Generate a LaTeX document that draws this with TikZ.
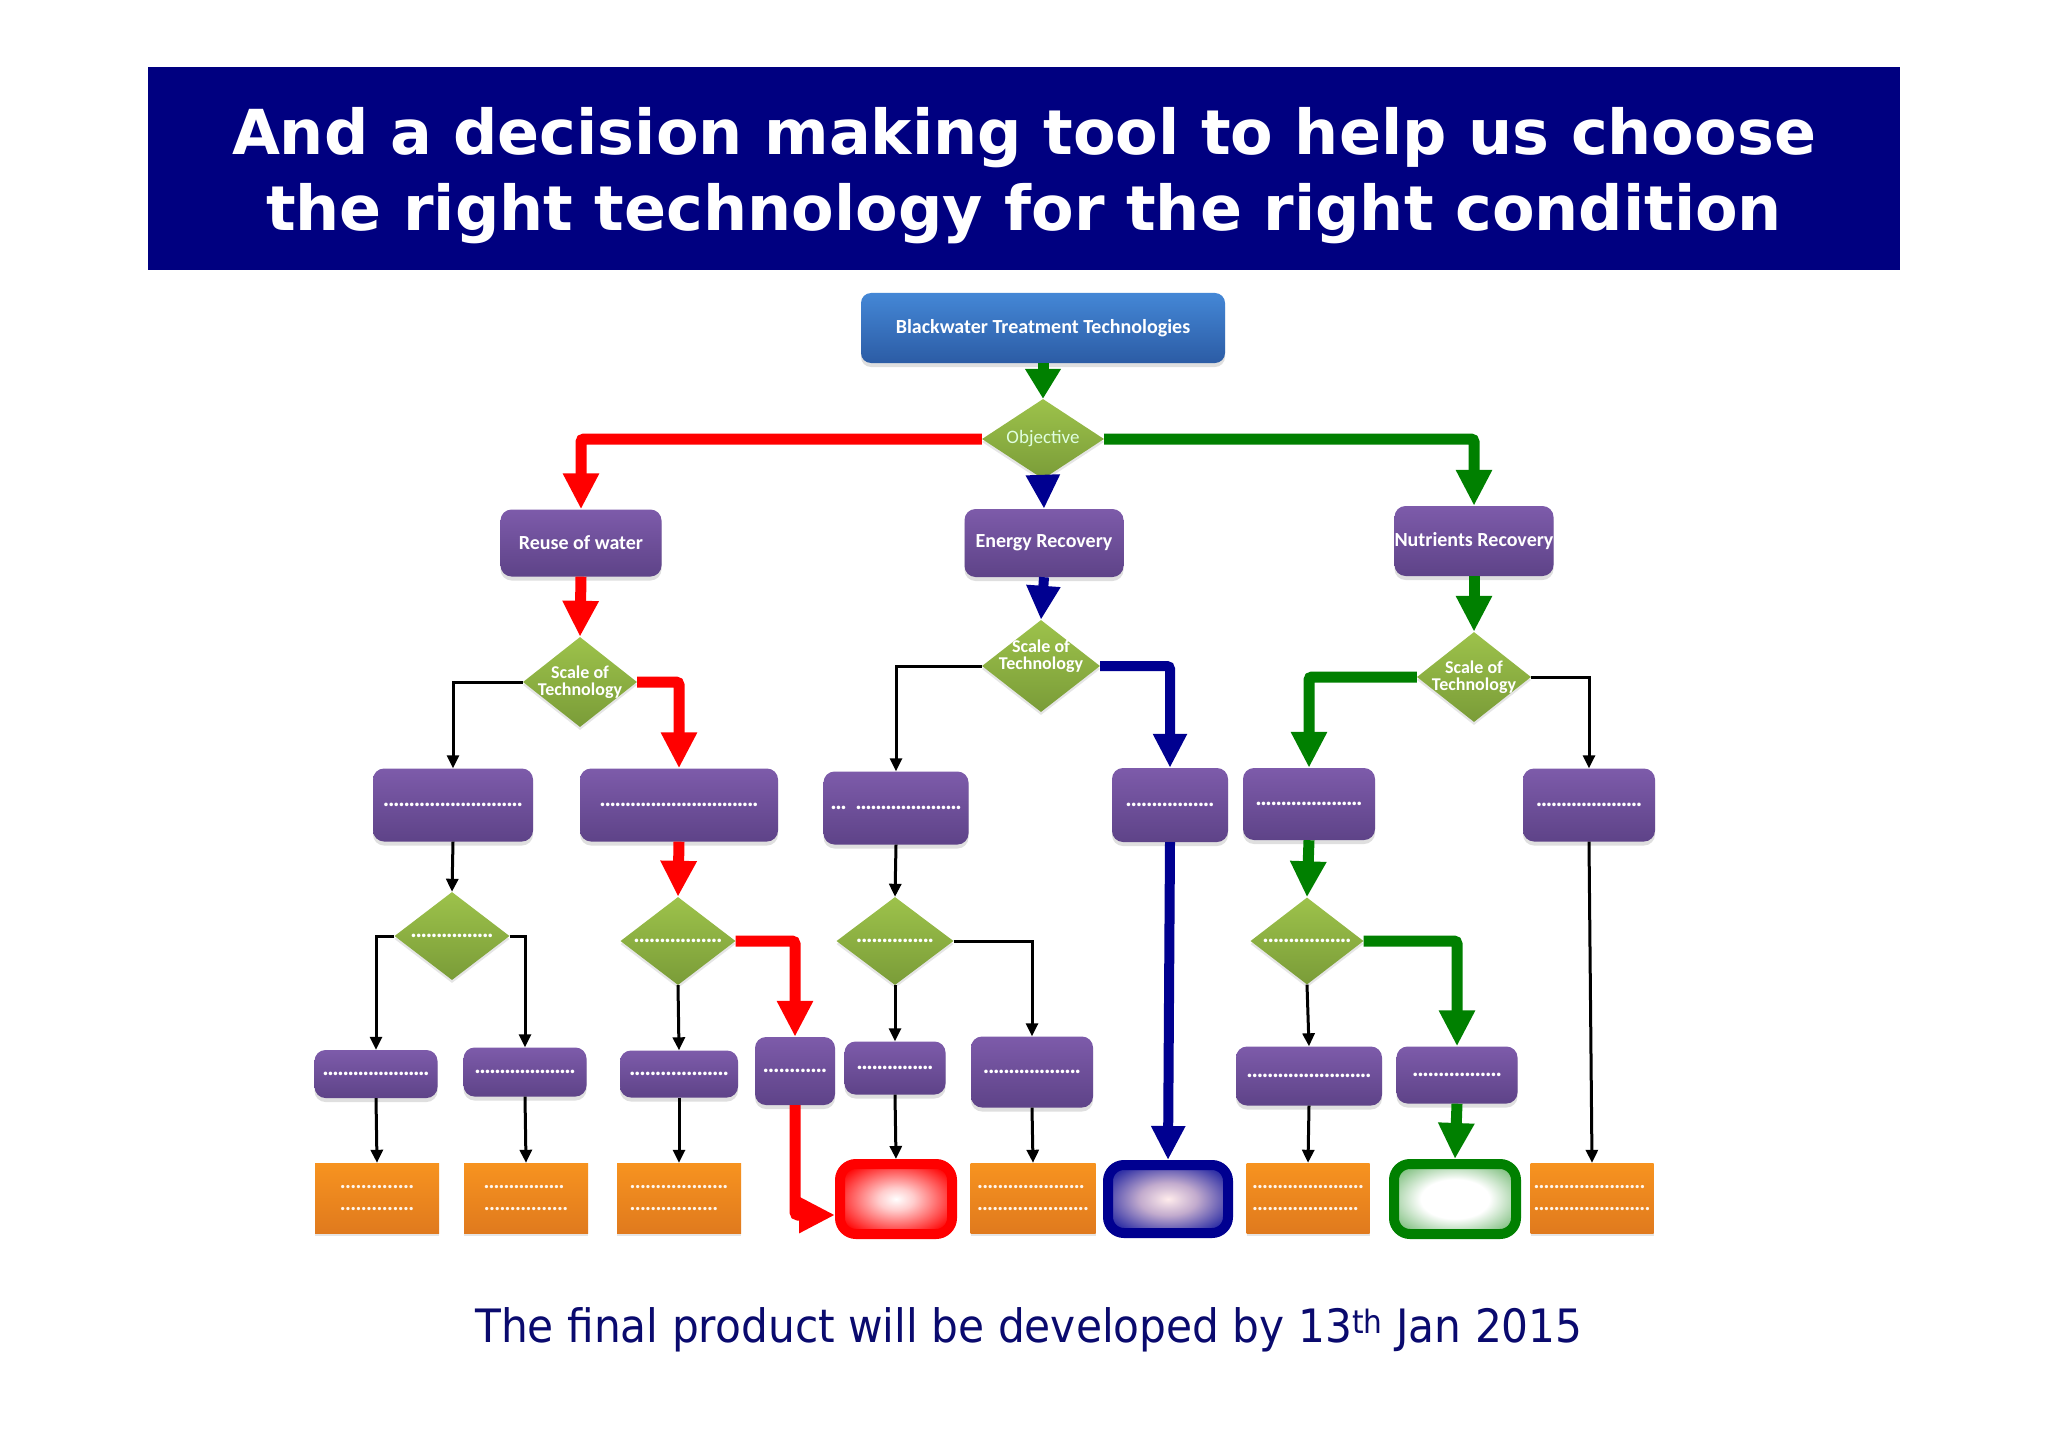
\documentclass[tikz,border=0pt]{standalone}
\usepackage{fontspec}
\usepackage{graphicx}
\setmainfont{DejaVu Sans}
\newfontfamily\carl{Carlito}
\usetikzlibrary{arrows.meta,shapes.geometric,shadows}
\definecolor{navyb}{HTML}{000080}
\definecolor{footc}{HTML}{0A0A6E}
\definecolor{pTop}{HTML}{7D5BAA}
\definecolor{pBot}{HTML}{5E4388}
\definecolor{gTop}{HTML}{9DC24B}
\definecolor{gBot}{HTML}{7A9C38}
\definecolor{oTop}{HTML}{F7931F}
\definecolor{oBot}{HTML}{E07A1E}
\definecolor{bTop}{HTML}{4487D6}
\definecolor{bBot}{HTML}{2C5CA5}
\definecolor{lred}{HTML}{FF0000}
\definecolor{lgreen}{HTML}{008000}
\definecolor{lblue}{HTML}{000090}
\pgfdeclareradialshading{glowR}{\pgfpoint{0bp}{0bp}}{color(0bp)=(white); color(8bp)=(lred!20!white); color(30bp)=(lred); color(50bp)=(lred)}
\pgfdeclareradialshading{glowB}{\pgfpoint{0bp}{0bp}}{color(0bp)=(pink!30!white); color(12bp)=(lblue!40!pink!60!white); color(28bp)=(lblue!80!white); color(42bp)=(lblue); color(50bp)=(lblue)}
\pgfdeclareradialshading{glowG}{\pgfpoint{0bp}{0bp}}{color(0bp)=(white); color(14bp)=(white); color(30bp)=(lgreen!50!white); color(42bp)=(lgreen); color(50bp)=(lgreen)}
\newcommand\dotrow[2][5pt]{\hbox to #2{\xleaders\hbox to #1{\hss.\hss}\hfill}}
\begin{document}
\begin{tikzpicture}[x=1pt,y=-1pt,
  pbox/.style={rectangle, rounded corners=11pt, top color=pTop, bottom color=pBot, inner sep=0pt,
    drop shadow={shadow xshift=0pt, shadow yshift=-4pt, opacity=0.25}, text=white,
    font=\carl\bfseries\fontsize{24}{24}\selectfont},
  lbox/.style={pbox, font=\carl\bfseries\fontsize{20}{22}\selectfont},
  bbox/.style={rectangle, rounded corners=10pt, top color=bTop, bottom color=bBot, inner sep=0pt,
    drop shadow={shadow xshift=0pt, shadow yshift=-4pt, opacity=0.25}, text=white,
    font=\carl\bfseries\fontsize{20}{22}\selectfont},
  dia/.style={diamond, top color=gTop, bottom color=gBot, inner sep=0pt,
    drop shadow={shadow xshift=0pt, shadow yshift=-3pt, opacity=0.2}},
  dlab/.style={text=white, align=center, font=\carl\bfseries\fontsize{18}{17}\selectfont},
  ddots/.style={text=white, font=\carl\bfseries\fontsize{24}{24}\selectfont},
  obox/.style={rectangle, top color=oTop, bottom color=oBot, inner sep=0pt, minimum width=124pt, minimum height=70pt,
    drop shadow={shadow xshift=0pt, shadow yshift=-3pt, opacity=0.2}, text=white!92!orange, align=left,
    font=\carl\bfseries\fontsize{22}{22}\selectfont},
  tgt/.style={rectangle, rounded corners=16pt, line width=10pt, inner sep=0pt},
  redc/.style={draw=lred, line width=11pt, rounded corners=3pt, -{Triangle[width=34pt,length=36pt]}},
  greenc/.style={draw=lgreen, line width=11pt, rounded corners=3pt, -{Triangle[width=34pt,length=36pt]}},
  bluec/.style={draw=lblue, line width=10pt, rounded corners=3pt, -{Triangle[width=32pt,length=34pt]}},
  blackc/.style={draw=black, line width=3pt, -{Triangle[width=12pt,length=13pt]}}
]
\useasboundingbox (0,0) rectangle (2048,1447);
\fill[white] (0,0) rectangle (2048,1447);

% title banner
\node[fill=navyb, minimum width=1752pt, minimum height=203pt, inner sep=0pt] (banner) at (1024,168.5) {};
\node[text=white, align=center, font=\bfseries\fontsize{62}{76}\selectfont] (title) at (1024,176)
  {And a decision making tool to help us choose\\the right technology for the right condition};

% level 0-2
\node[bbox, minimum width=364pt, minimum height=70pt] (top) at (1043,328) {Blackwater Treatment Technologies};
\node[dia, minimum width=122pt, minimum height=80pt,
  label={[dlab, font=\carl\fontsize{19}{19}\selectfont, text=white!88!green]center:Objective}] (obj) at (1043,439) {};
\node[lbox, minimum width=161pt, minimum height=67pt] (reuse) at (581,543) {Reuse of water};
\node[lbox, minimum width=159pt, minimum height=68pt] (energy) at (1044,543) {Energy Recovery};
\node[lbox, minimum width=159pt, minimum height=70pt] (nut) at (1474,541) {Nutrients Recovery};

\node[dia, minimum width=114pt, minimum height=90pt, label={[dlab]center:Scale of\\Technology}] (s1) at (580,682) {};
\node[dia, minimum width=118pt, minimum height=92pt, label={[dlab, yshift=10pt]center:Scale of\\Technology}] (s2) at (1041,666) {};
\node[dia, minimum width=114pt, minimum height=90pt, label={[dlab]center:Scale of\\Technology}] (s3) at (1474,677) {};

% row 3
\node[pbox, minimum width=160pt, minimum height=73pt] (A) at (453,805) {\dotrow{139pt}};
\node[pbox, minimum width=198pt, minimum height=73pt] (B) at (679,805) {\dotrow{158pt}};
\node[pbox, minimum width=145pt, minimum height=73pt] (C) at (896,808) {\dotrow{15pt}\hspace{10pt}\dotrow{105pt}};
\node[pbox, minimum width=116pt, minimum height=74pt] (D) at (1170,805) {\dotrow{88pt}};
\node[pbox, minimum width=132pt, minimum height=72pt] (E) at (1309,804) {\dotrow{106pt}};
\node[pbox, minimum width=132pt, minimum height=73pt] (F) at (1589,805) {\dotrow{105pt}};

% row 4 diamonds
\node[dia, minimum width=115pt, minimum height=88pt, label={[ddots]center:\dotrow{82pt}}] (DA) at (452,936) {};
\node[dia, minimum width=115pt, minimum height=88pt, label={[ddots]center:\dotrow{88pt}}] (DB) at (678,941) {};
\node[dia, minimum width=117pt, minimum height=88pt, label={[ddots]center:\dotrow{77pt}}] (DC) at (895,941) {};
\node[dia, minimum width=113pt, minimum height=87pt, label={[ddots]center:\dotrow{88pt}}] (DE) at (1307,941) {};

% row 5
\node[pbox, minimum width=123pt, minimum height=48pt] (P1) at (376,1074) {\dotrow{106pt}};
\node[pbox, minimum width=123pt, minimum height=49pt] (P2) at (525,1072) {\dotrow{100pt}};
\node[pbox, minimum width=118pt, minimum height=47pt] (P3) at (679,1074) {\dotrow{99pt}};
\node[pbox, minimum width=80pt, minimum height=68pt] (P4) at (795,1071) {\dotrow{64pt}};
\node[pbox, minimum width=101pt, minimum height=53pt] (P5) at (895,1068) {\dotrow{76pt}};
\node[pbox, minimum width=122pt, minimum height=71pt] (P6) at (1032,1072) {\dotrow{97pt}};
\node[pbox, minimum width=146pt, minimum height=59pt] (P7) at (1309,1076) {\dotrow{124pt}};
\node[pbox, minimum width=121pt, minimum height=57pt] (P8) at (1457,1075) {\dotrow{89pt}};

% row 6
\node[obox] (O1) at (377,1198) {\dotrow{74pt}\\\dotrow{74pt}};
\node[obox] (O2) at (526,1198) {\dotrow{80pt}\\\dotrow{84pt}};
\node[obox] (O3) at (679,1198) {\dotrow{98pt}\\\dotrow{88pt}};
\node[tgt, draw=lred, shading=glowR, minimum width=112pt, minimum height=70pt] (Rt) at (896,1199) {};
\node[obox, minimum width=125pt] (O5) at (1033,1198) {\dotrow{107pt}\\\dotrow{111pt}};
\node[tgt, draw=lblue, shading=glowB, minimum width=120pt, minimum height=68pt] (Bt) at (1168,1199) {};
\node[obox, minimum width=123pt] (O7) at (1308,1198) {\dotrow{111pt}\\\dotrow{106pt}};
\node[tgt, draw=lgreen, shading=glowG, minimum width=122pt, minimum height=70pt] (Gt) at (1455,1199) {};
\node[obox, minimum width=123pt] (O9) at (1592,1198) {\dotrow{111pt}\\\dotrow{116pt}};

% footer
\node[text=footc, font=\fontsize{46}{55}\selectfont] (foot) at (1029,1330)
  {\scalebox{0.92}[1]{The final product will be developed by 13\textsuperscript{th} Jan 2015}};

% red path
\draw[redc] (obj.west) -| (reuse.north);
\draw[redc] (reuse.south) -- (s1.north);
\draw[redc] (s1.east) -| (B.north);
\draw[redc] (B.south) -- (DB.north);
\draw[redc] (DB.east) -| (P4.north);
\draw[redc] (P4.south) |- ([yshift=-16pt]Rt.west);

% green path
\draw[greenc, -{Triangle[width=34pt,length=30pt]}] (top.south) -- (obj.north);
\draw[greenc] (obj.east) -| (nut.north);
\draw[greenc] (nut.south) -- (s3.north);
\draw[greenc] (s3.west) -| (E.north);
\draw[greenc] (E.south) -- (DE.north);
\draw[greenc] (DE.east) -| (P8.north);
\draw[greenc] (P8.south) -- (Gt.north);

% blue path
\draw[bluec] (obj.south) -- (energy.north);
\draw[bluec] (energy.south) -- (s2.north);
\draw[bluec] (s2.east) -| (D.north);
\draw[bluec] (D.south) -- (Bt.north);

% black connectors
\draw[blackc] (s1.west) -| (A.north);
\draw[blackc] (A.south) -- (DA.north);
\draw[blackc] (DA.west) -| (P1.north);
\draw[blackc] (DA.east) -| (P2.north);
\draw[blackc] (P1.south) -- (O1.north);
\draw[blackc] (P2.south) -- (O2.north);
\draw[blackc] (DB.south) -- (P3.north);
\draw[blackc] (P3.south) -- (O3.north);
\draw[blackc] (s2.west) -| (C.north);
\draw[blackc] (C.south) -- (DC.north);
\draw[blackc] (DC.south) -- (P5.north);
\draw[blackc] (P5.south) -- (Rt.north);
\draw[blackc] (DC.east) -| (P6.north);
\draw[blackc] (P6.south) -- (O5.north);
\draw[blackc] (DE.south) -- (P7.north);
\draw[blackc] (P7.south) -- (O7.north);
\draw[blackc] (s3.east) -| (F.north);
\draw[blackc] (F.south) -- (O9.north);
\end{tikzpicture}
\end{document}
